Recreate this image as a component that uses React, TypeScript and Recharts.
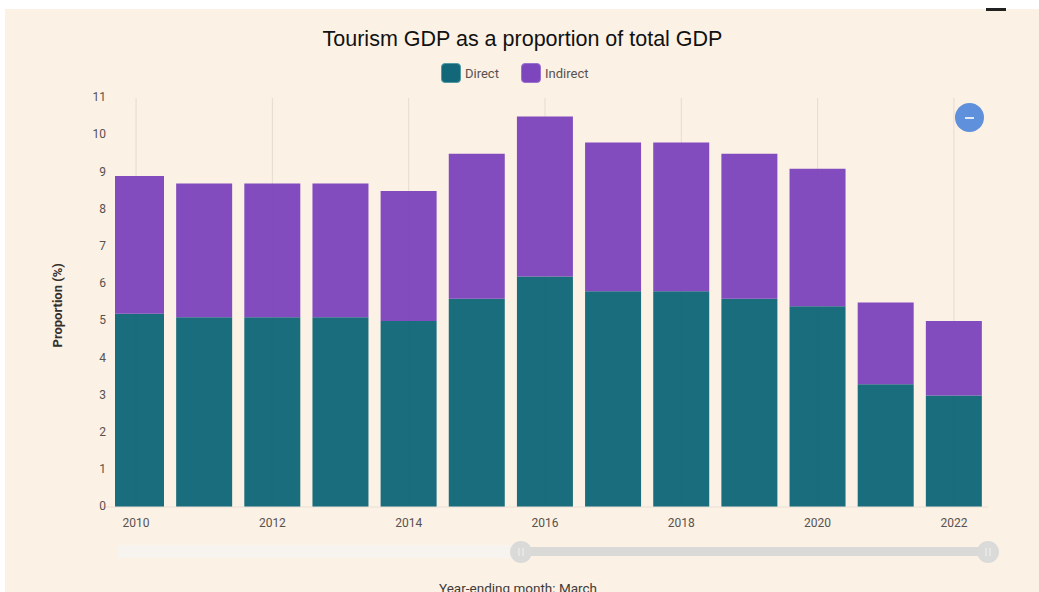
import { Bar, BarChart, CartesianGrid, Rectangle, XAxis, YAxis } from "recharts";

const years = [2010, 2011, 2012, 2013, 2014, 2015, 2016, 2017, 2018, 2019, 2020, 2021, 2022];
const direct = [5.2, 5.1, 5.1, 5.1, 5.0, 5.6, 6.2, 5.8, 5.8, 5.6, 5.4, 3.3, 3.0];
const indirect = [3.7, 3.6, 3.6, 3.6, 3.5, 3.9, 4.3, 4.0, 4.0, 3.9, 3.7, 2.2, 2.0];
const yTicks = [0, 1, 2, 3, 4, 5, 6, 7, 8, 9, 10, 11];

const data = years.map((year, i) => ({ year, direct: direct[i], indirect: indirect[i] }));

const DIRECT_COLOR = "#126878";
const INDIRECT_COLOR = "#7e46bc";
const CARD_BG = "#fcf1e5";
const TICK_COLOR = "#57524f";
const FONT = "Roboto, sans-serif";

// the first band is cut off at the left edge of the visible range
const BAR_LEFT_LIMIT = 115;

function ClippedBar(props: any) {
  const left = Math.max(props.x, BAR_LEFT_LIMIT);
  return (
    <Rectangle
      x={left}
      y={props.y}
      width={props.x + props.width - left}
      height={props.height}
      fill={props.fill}
      fillOpacity={0.97}
    />
  );
}

function LegendItem({ color, border, label, left }: { color: string; border: string; label: string; left: number }) {
  return (
    <div style={{ position: "absolute", left, top: 63, display: "flex", alignItems: "center" }}>
      <div
        style={{
          width: 20,
          height: 20,
          boxSizing: "border-box",
          borderRadius: 4,
          background: color,
          border: `1px solid ${border}`,
        }}
      />
      <span style={{ marginLeft: 4, font: `400 13px ${FONT}`, color: TICK_COLOR }}>{label}</span>
    </div>
  );
}

export default function App() {
  return (
    <div
      style={{
        position: "absolute",
        left: 0,
        top: 0,
        width: 1039,
        height: 592,
        overflow: "hidden",
        background: "#ffffff",
      }}
    >
      <div style={{ position: "absolute", left: 5, top: 9, right: 0, bottom: 0, background: CARD_BG }} />
      <div style={{ position: "absolute", left: 986, top: 8, width: 20, height: 3, background: "#222222" }} />

      <div
        style={{
          position: "absolute",
          left: 0,
          width: 1045,
          top: 27,
          textAlign: "center",
          font: "21.5px 'Liberation Sans', Arial, sans-serif",
          color: "#111111",
        }}
      >
        Tourism GDP as a proportion of total GDP
      </div>

      <LegendItem color={DIRECT_COLOR} border="#4f9aa3" label="Direct" left={441} />
      <LegendItem color={INDIRECT_COLOR} border="#9a72d0" label="Indirect" left={521} />

      <div style={{ position: "absolute", left: 0, top: 0 }}>
        <BarChart
          width={1039}
          height={592}
          data={data}
          margin={{ top: 98, right: 51, bottom: 55, left: 42 }}
          barSize={56}
        >
          <CartesianGrid vertical horizontal={false} syncWithTicks stroke="#e4dcd2" />
          <XAxis
            dataKey="year"
            interval={1}
            tickLine={false}
            axisLine={{ stroke: "#e8e0d6" }}
            tickMargin={5}
            tick={{ fill: TICK_COLOR, fontSize: 12, fontFamily: FONT, fontWeight: 400 }}
          />
          <YAxis
            width={60}
            domain={[0, 11]}
            ticks={yTicks}
            interval={0}
            tickLine={false}
            axisLine={false}
            tick={{ fill: TICK_COLOR, fontSize: 12, fontFamily: FONT, fontWeight: 400, dx: 12, dy: -1 }}
            label={{
              value: "Proportion (%)",
              angle: -90,
              position: "insideLeft",
              dx: 10,
              dy: 45,
              style: { fill: "#33302e", fontSize: 13, fontFamily: FONT, fontWeight: 700 },
            }}
          />
          <Bar dataKey="direct" stackId="a" fill={DIRECT_COLOR} shape={ClippedBar} isAnimationActive={false} />
          <Bar dataKey="indirect" stackId="a" fill={INDIRECT_COLOR} shape={ClippedBar} isAnimationActive={false} />
        </BarChart>
      </div>

      {/* range slider under the chart */}
      <div style={{ position: "absolute", left: 118, top: 545, width: 404, height: 13, background: "#f7f3ee" }} />
      <div style={{ position: "absolute", left: 522, top: 547, width: 466, height: 9, background: "#d9d9d8" }} />
      {[510, 977].map((left) => (
        <div
          key={left}
          style={{ position: "absolute", left, top: 541, width: 22, height: 22, borderRadius: "50%", background: "#dadad9" }}
        >
          <div style={{ position: "absolute", left: 8, top: 7, width: 2, height: 8, background: "#e6e6e5" }} />
          <div style={{ position: "absolute", left: 12, top: 7, width: 2, height: 8, background: "#e6e6e5" }} />
        </div>
      ))}

      {/* collapse button */}
      <div style={{ position: "absolute", left: 955, top: 103, width: 29, height: 29, borderRadius: "50%", background: "#5f90dc" }}>
        <div style={{ position: "absolute", left: 10, top: 14, width: 9, height: 2, background: "#dfe9f8" }} />
      </div>

      <div
        style={{
          position: "absolute",
          left: 0,
          width: 1036,
          top: 580,
          textAlign: "center",
          font: `400 13.5px ${FONT}`,
          color: "#3f3b39",
        }}
      >
        Year-ending month: March
      </div>
    </div>
  );
}
